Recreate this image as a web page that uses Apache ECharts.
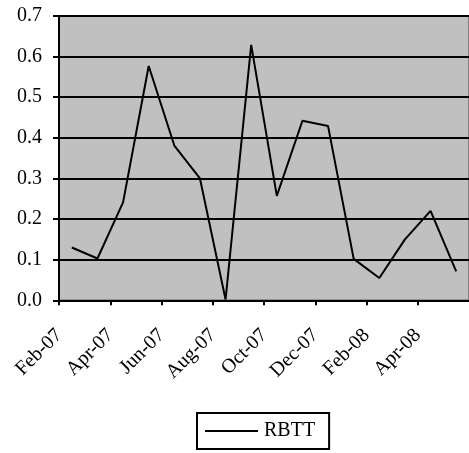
<!DOCTYPE html>
<html>
<head>
<meta charset="utf-8">
<script src="https://cdn.jsdelivr.net/npm/echarts@6/dist/echarts.min.js"></script>
<style>
  html, body { margin: 0; padding: 0; background: #fff; }
  #chart { width: 469px; height: 453px; }
</style>
</head>
<body>
<div id="chart"></div>
<script>
// Monthly RBTT readings, Feb-07 through May-08
const months = ['Feb-07', 'Mar-07', 'Apr-07', 'May-07', 'Jun-07', 'Jul-07', 'Aug-07', 'Sep-07',
                'Oct-07', 'Nov-07', 'Dec-07', 'Jan-08', 'Feb-08', 'Mar-08', 'Apr-08', 'May-08'];
const rbtt = [0.13, 0.103, 0.241, 0.577, 0.381, 0.300, 0.002, 0.629,
              0.257, 0.442, 0.429, 0.102, 0.055, 0.150, 0.220, 0.071];
const yTicks = [0.0, 0.1, 0.2, 0.3, 0.4, 0.5, 0.6, 0.7];

// Each month occupies one unit on the x scale; points sit at the middle of their month.
const points = rbtt.map((v, i) => [i + 0.5, v]);

const font = 'Liberation Serif, Times New Roman, serif';
const chart = echarts.init(document.getElementById('chart'), null, { renderer: 'canvas' });

chart.setOption({
  animation: false,
  backgroundColor: '#ffffff',
  textStyle: { fontFamily: font },
  grid: {
    left: 59, top: 16, width: 413.6, height: 284.3,
    show: true, backgroundColor: '#c0c0c0', borderColor: '#808080', borderWidth: 2
  },
  xAxis: {
    type: 'value',
    min: 0, max: months.length, interval: 2,
    axisLine: { show: true, onZero: false, lineStyle: { color: '#000', width: 2 } },
    axisTick: { show: true, length: 5, lineStyle: { color: '#000', width: 2 } },
    splitLine: { show: false },
    axisLabel: {
      rotate: 45, margin: 32, color: '#000', fontSize: 20, fontFamily: font,
      showMaxLabel: false,
      formatter: v => months[v] || ''
    }
  },
  yAxis: {
    type: 'value',
    min: yTicks[0], max: yTicks[yTicks.length - 1], interval: 0.1,
    axisLine: { show: true, lineStyle: { color: '#000', width: 2 } },
    axisTick: { show: true, length: 6, lineStyle: { color: '#000', width: 2 } },
    splitLine: { show: true, lineStyle: { color: '#000', width: 2 } },
    axisLabel: {
      margin: 17, color: '#000', fontSize: 20, fontFamily: font,
      formatter: v => v.toFixed(1)
    }
  },
  legend: {
    data: ['RBTT'],
    left: 197, top: 413,
    orient: 'horizontal',
    padding: [8, 14, 8, 8],
    borderColor: '#000', borderWidth: 2, borderRadius: 0,
    backgroundColor: '#fff',
    icon: 'rect',
    itemWidth: 53, itemHeight: 2, itemGap: 4,
    textStyle: { color: '#000', fontSize: 20, fontFamily: font, padding: [0, 0, 0, 1] }
  },
  series: [{
    name: 'RBTT',
    type: 'line',
    data: points,
    symbol: 'none',
    showSymbol: false,
    lineStyle: { color: '#000', width: 2 },
    itemStyle: { color: '#000' }
  }]
});
</script>
</body>
</html>
